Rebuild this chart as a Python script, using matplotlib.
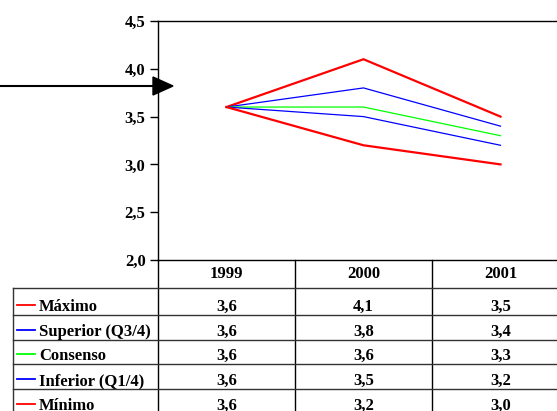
import matplotlib
matplotlib.use("Agg")
import matplotlib.pyplot as plt
from matplotlib.patches import Polygon

plt.rcParams['font.family'] = ['Liberation Serif', 'DejaVu Serif']
plt.rcParams['font.weight'] = 'bold'

years = ['1999', '2000', '2001']
series_names = ['Máximo', 'Superior (Q3/4)', 'Consenso', 'Inferior (Q1/4)', 'Mínimo']
maximo = [3.6, 4.1, 3.5]
superior = [3.6, 3.8, 3.4]
consenso = [3.6, 3.6, 3.3]
inferior = [3.6, 3.5, 3.2]
minimo = [3.6, 3.2, 3.0]
series_values = [maximo, superior, consenso, inferior, minimo]
series_colors = ['#FF0000', '#0000FF', '#00FF00', '#0000FF', '#FF0000']
series_widths = [1.6, 0.9, 0.9, 0.9, 1.6]
yticks = [2.0, 2.5, 3.0, 3.5, 4.0, 4.5]

FS = 12
W, H = 557, 411
fig = plt.figure(figsize=(W / 100, H / 100), dpi=100)

ov = fig.add_axes([0, 0, 1, 1])
ov.set_xlim(0, W)
ov.set_ylim(H, 0)
ov.axis('off')

left, right, top, bottom = 158, 569, 21, 260
ax = fig.add_axes([left / W, (H - bottom) / H, (right - left) / W, (bottom - top) / H])
ax.set_xlim(0, 3)
ax.set_ylim(2.0, 4.5)
xs = [i + 0.5 for i in range(len(years))]
for vals, c, lw in zip(series_values, series_colors, series_widths):
    ax.plot(xs, vals, color=c, lw=lw, solid_joinstyle='miter')
ax.set_yticks(yticks)
ax.set_yticklabels([f"{v:.1f}".replace('.', ',') for v in yticks], fontsize=FS, fontweight='bold')
ax.tick_params(axis='y', direction='out', length=6, width=1, pad=3)
ax.set_xticks([])
for s in ['left', 'top', 'bottom']:
    ax.spines[s].set_linewidth(1)
    ax.spines[s].set_color('black')
ax.spines['right'].set_visible(False)
ax.patch.set_alpha(0)

# table
col_w = (right - left) / len(years)
header_bottom = 288
row_bounds = [288, 315, 340, 364, 389, 414]
table_left = 13
lc = '#333333'
ov.plot([left, left], [bottom, row_bounds[-1]], color='black', lw=1)
for i in range(1, len(years)):
    x = left + i * col_w
    ov.plot([x, x], [bottom, row_bounds[-1]], color='black', lw=1)
ov.plot([table_left, table_left], [header_bottom, row_bounds[-1]], color=lc, lw=1)
for y in row_bounds[:-1]:
    ov.plot([table_left, W], [y, y], color=lc, lw=1)
for i, yr in enumerate(years):
    ov.text(left + (i + 0.5) * col_w, header_bottom - 10, yr,
            ha='center', va='baseline', fontsize=FS, fontweight='bold')
for r, (name, vals, c) in enumerate(zip(series_names, series_values, series_colors)):
    rb = row_bounds[r + 1]
    ov.plot([17, 35], [rb - 10.5, rb - 10.5], color=c, lw=1.3)
    ov.text(39, rb - 4, name, ha='left', va='baseline', fontsize=FS, fontweight='bold')
    for i, v in enumerate(vals):
        ov.text(left + (i + 0.5) * col_w, rb - 4, f"{v:.1f}".replace('.', ','),
                ha='center', va='baseline', fontsize=FS, fontweight='bold')

# arrow
ov.plot([0, 155], [86, 86], color='black', lw=1.5)
ov.add_patch(Polygon([[153, 77], [173, 86], [153, 95]], closed=True, color='black'))

fig.savefig('out.png', dpi=100)
